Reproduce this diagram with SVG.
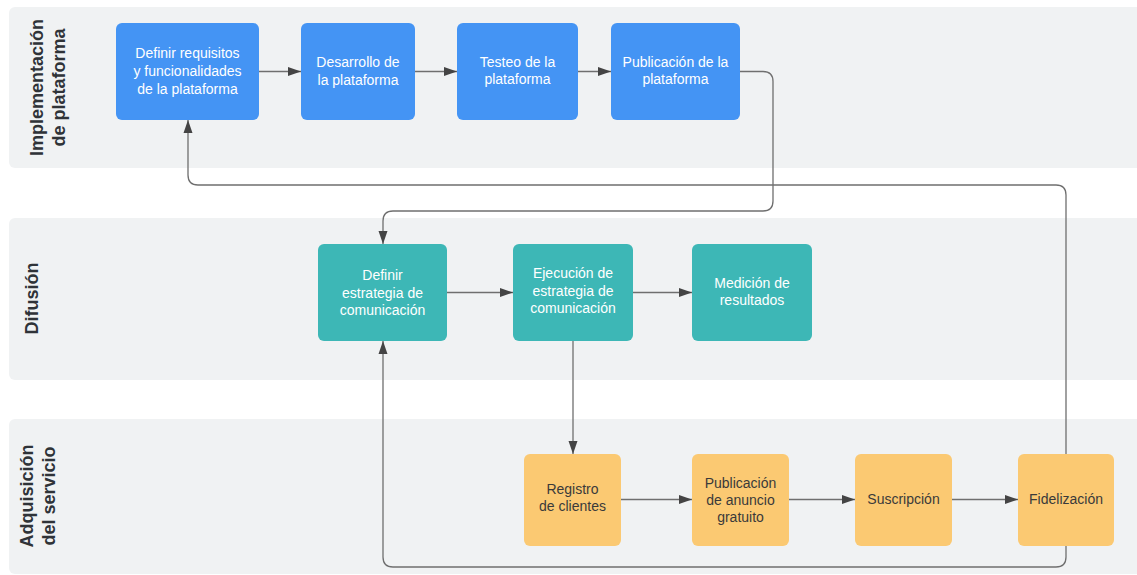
<svg xmlns="http://www.w3.org/2000/svg" width="1137" height="575" viewBox="0 0 1137 575">
<style>
.lane{fill:#f0f2f3}
.title{font-family:"Liberation Sans",Arial,sans-serif;font-size:18px;font-weight:bold;fill:#2f3338;text-anchor:middle}
.nb{fill:#4494f4}
.nt{fill:#3db7b6}
.no{fill:#fbc972}
.tw{font-family:"Liberation Sans",Arial,sans-serif;font-size:14px;fill:#ffffff;text-anchor:middle}
.td{font-family:"Liberation Sans",Arial,sans-serif;font-size:14px;fill:#3a3a3a;text-anchor:middle}
.edge{fill:none;stroke:#6f6f6f;stroke-width:1.3}
</style>
<defs>
<marker id="arr" markerUnits="userSpaceOnUse" markerWidth="13" markerHeight="10" refX="13" refY="5" orient="auto">
<path d="M0,0.5 L13,5 L0,9.5 z" fill="#444"/>
</marker>
</defs>
<rect width="1137" height="575" fill="#ffffff"/>
<g id="lanes">
<rect class="lane" x="9" y="7" width="1140" height="161" rx="6"/>
<rect class="lane" x="9" y="218" width="1140" height="162" rx="6"/>
<rect class="lane" x="9" y="419" width="1140" height="155" rx="6"/>
<text class="title" transform="translate(43,87.5) rotate(-90)">Implementación</text>
<text class="title" transform="translate(65,87.5) rotate(-90)">de plataforma</text>
<text class="title" transform="translate(38,298.5) rotate(-90)">Difusión</text>
<text class="title" transform="translate(33,496) rotate(-90)">Adquisición</text>
<text class="title" transform="translate(55,496) rotate(-90)">del servicio</text>
</g>
<g id="connectors">
<path class="edge" marker-end="url(#arr)" d="M259,71.5 H301"/>
<path class="edge" marker-end="url(#arr)" d="M415,71.5 H457"/>
<path class="edge" marker-end="url(#arr)" d="M578,71.5 H611"/>
<path class="edge" marker-end="url(#arr)" d="M740,71.5 H763 Q773,71.5 773,81.5 V201 Q773,211 763,211 H393 Q383,211 383,221 V244"/>
<path class="edge" marker-end="url(#arr)" d="M447,292.5 H513"/>
<path class="edge" marker-end="url(#arr)" d="M633,292.5 H692"/>
<path class="edge" marker-end="url(#arr)" d="M573,341 V454"/>
<path class="edge" marker-end="url(#arr)" d="M621,499.5 H692"/>
<path class="edge" marker-end="url(#arr)" d="M789,499.5 H855"/>
<path class="edge" marker-end="url(#arr)" d="M952,499.5 H1018"/>
<path class="edge" marker-end="url(#arr)" d="M1066,454 V195 Q1066,185 1056,185 H198 Q188,185 188,175 V120"/>
<path class="edge" marker-end="url(#arr)" d="M1066,546 V557 Q1066,567 1056,567 H393 Q383,567 383,557 V341"/>
</g>
<g id="n1"><rect class="nb" x="116" y="23" width="143" height="97" rx="6"/>
<text class="tw" x="187.5" y="58">Definir requisitos</text><text class="tw" x="187.5" y="76">y funcionalidades</text><text class="tw" x="187.5" y="93.5">de la plataforma</text></g>
<g id="n2"><rect class="nb" x="301" y="23" width="114" height="97" rx="6"/>
<text class="tw" x="358" y="67">Desarrollo de</text><text class="tw" x="358" y="84.5">la plataforma</text></g>
<g id="n3"><rect class="nb" x="457" y="23" width="121" height="97" rx="6"/>
<text class="tw" x="517.5" y="66.5">Testeo de la</text><text class="tw" x="517.5" y="84">plataforma</text></g>
<g id="n4"><rect class="nb" x="611" y="23" width="129" height="97" rx="6"/>
<text class="tw" x="675.5" y="66.5">Publicación de la</text><text class="tw" x="675.5" y="84">plataforma</text></g>
<g id="n5"><rect class="nt" x="318" y="244" width="129" height="97" rx="6"/>
<text class="tw" x="382.5" y="280">Definir</text><text class="tw" x="382.5" y="297.5">estrategia de</text><text class="tw" x="382.5" y="314.5">comunicación</text></g>
<g id="n6"><rect class="nt" x="513" y="244" width="120" height="97" rx="6"/>
<text class="tw" x="573" y="278">Ejecución de</text><text class="tw" x="573" y="295.5">estrategia de</text><text class="tw" x="573" y="313">comunicación</text></g>
<g id="n7"><rect class="nt" x="692" y="244" width="120" height="97" rx="6"/>
<text class="tw" x="752" y="288">Medición de</text><text class="tw" x="752" y="305">resultados</text></g>
<g id="n8"><rect class="no" x="524" y="454" width="97" height="92" rx="6"/>
<text class="td" x="572.5" y="494">Registro</text><text class="td" x="572.5" y="511">de clientes</text></g>
<g id="n9"><rect class="no" x="692" y="454" width="97" height="92" rx="6"/>
<text class="td" x="740.5" y="488">Publicación</text><text class="td" x="740.5" y="505">de anuncio</text><text class="td" x="740.5" y="522">gratuito</text></g>
<g id="n10"><rect class="no" x="855" y="454" width="97" height="92" rx="6"/>
<text class="td" x="903.5" y="504">Suscripción</text></g>
<g id="n11"><rect class="no" x="1018" y="454" width="96" height="92" rx="6"/>
<text class="td" x="1066" y="504">Fidelización</text></g>
</svg>
